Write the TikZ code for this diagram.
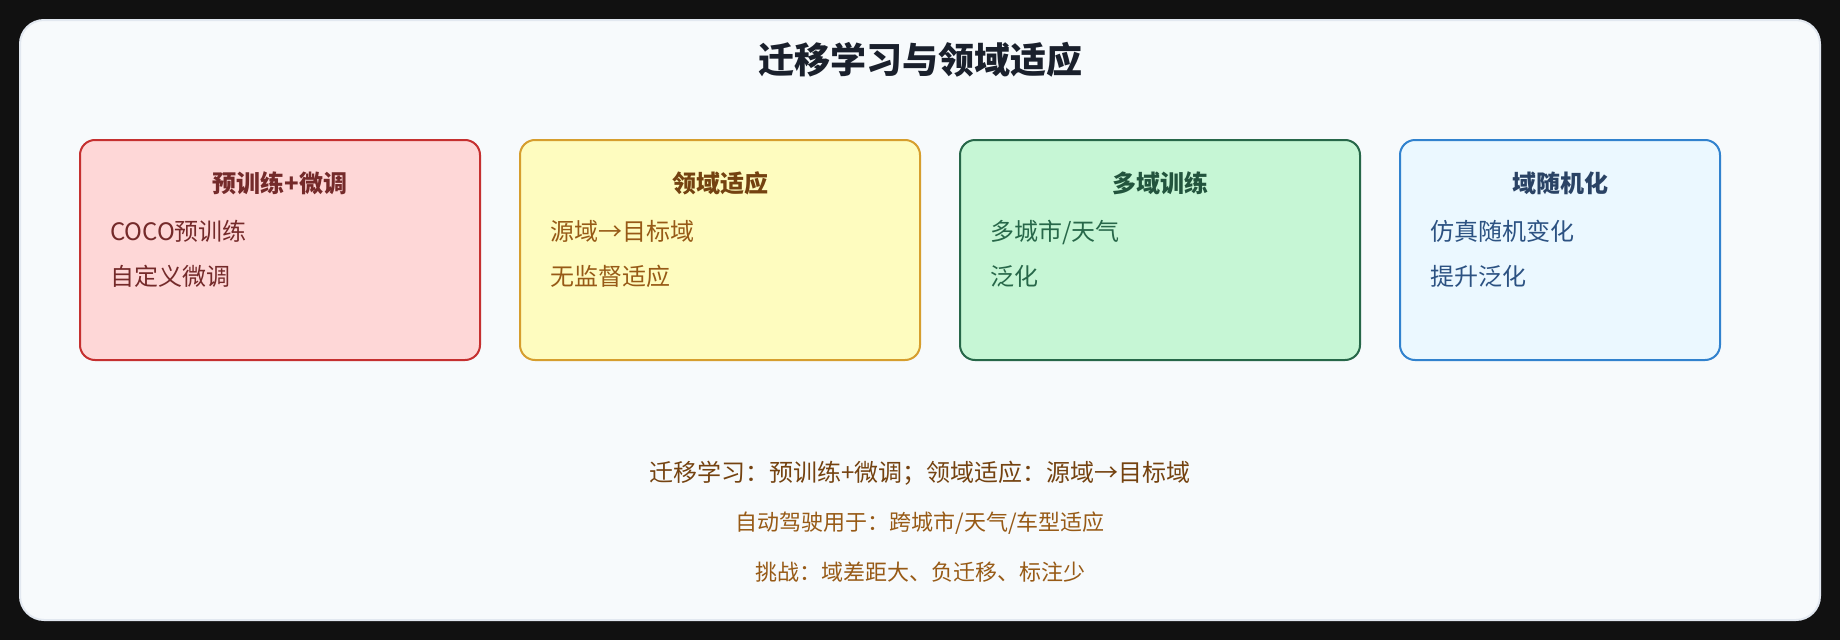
\documentclass[tikz,border=0pt]{standalone}
\usepackage{fontspec}
\setmainfont{Noto Sans CJK SC}
\definecolor{pagebg}{HTML}{111111}
\definecolor{cardbg}{HTML}{F7FAFC}
\definecolor{cardline}{HTML}{E2E8F0}
\definecolor{titlec}{HTML}{1A202C}
\definecolor{rfill}{HTML}{FED7D7}
\definecolor{rline}{HTML}{C53030}
\definecolor{rtext}{HTML}{742A2A}
\definecolor{yfill}{HTML}{FEFCBF}
\definecolor{yline}{HTML}{D69E2E}
\definecolor{ytitle}{HTML}{744210}
\definecolor{ytext}{HTML}{975A16}
\definecolor{gfill}{HTML}{C6F6D5}
\definecolor{gline}{HTML}{276749}
\definecolor{gtitle}{HTML}{22543D}
\definecolor{gtext}{HTML}{276749}
\definecolor{bfill}{HTML}{EBF8FF}
\definecolor{bline}{HTML}{3182CE}
\definecolor{btitle}{HTML}{2A4365}
\definecolor{btext}{HTML}{2C5282}
\tikzset{
  card/.style={draw=cardline, fill=cardbg, line width=2pt, rounded corners=24pt},
  panel/.style={line width=2pt, rounded corners=15pt, inner sep=0pt, outer sep=0pt,
    anchor=north west, minimum height=220pt},
  heading/.style={font=\fontsize{36}{40}\selectfont\bfseries, text=titlec, anchor=base, inner sep=0pt},
  ptitle/.style={font=\fontsize{24}{28}\selectfont\bfseries, anchor=base, inner sep=0pt},
  pitem/.style={font=\fontsize{24}{28}\selectfont, anchor=base west, inner sep=0pt},
  noteA/.style={font=\fontsize{24}{28}\selectfont, text=ytitle, anchor=base, inner sep=0pt},
  noteB/.style={font=\fontsize{22}{26}\selectfont, text=ytext, anchor=base, inner sep=0pt},
}
\begin{document}
\begin{tikzpicture}[x=1pt,y=-1pt]
\useasboundingbox (0,0) rectangle (1840,640);
\fill[pagebg] (0,0) rectangle (1840,640);
\draw[card] (20,20) rectangle (1820,620);
\node[heading] (title) at (920,73) {迁移学习与领域适应};

% panel 1
\node[panel, draw=rline, fill=rfill, minimum width=400pt] (p1) at (80,140) {};
\node[ptitle, text=rtext] (p1t) at (280,192) {预训练+微调};
\node[pitem, text=rtext] (p1a) at (110,240) {COCO预训练};
\node[pitem, text=rtext] (p1b) at (110,285) {自定义微调};

% panel 2
\node[panel, draw=yline, fill=yfill, minimum width=400pt] (p2) at (520,140) {};
\node[ptitle, text=ytitle] (p2t) at (720,192) {领域适应};
\node[pitem, text=ytext] (p2a) at (550,240) {源域→目标域};
\node[pitem, text=ytext] (p2b) at (550,285) {无监督适应};

% panel 3
\node[panel, draw=gline, fill=gfill, minimum width=400pt] (p3) at (960,140) {};
\node[ptitle, text=gtitle] (p3t) at (1160,192) {多域训练};
\node[pitem, text=gtext] (p3a) at (990,240) {多城市/天气};
\node[pitem, text=gtext] (p3b) at (990,285) {泛化};

% panel 4
\node[panel, draw=bline, fill=bfill, minimum width=320pt] (p4) at (1400,140) {};
\node[ptitle, text=btitle] (p4t) at (1560,192) {域随机化};
\node[pitem, text=btext] (p4a) at (1430,240) {仿真随机变化};
\node[pitem, text=btext] (p4b) at (1430,285) {提升泛化};

% notes
\node[noteA] (n1) at (920,481) {迁移学习：预训练+微调；领域适应：源域→目标域};
\node[noteB] (n2) at (920,530) {自动驾驶用于：跨城市/天气/车型适应};
\node[noteB] (n3) at (920,580) {挑战：域差距大、负迁移、标注少};
\end{tikzpicture}
\end{document}
